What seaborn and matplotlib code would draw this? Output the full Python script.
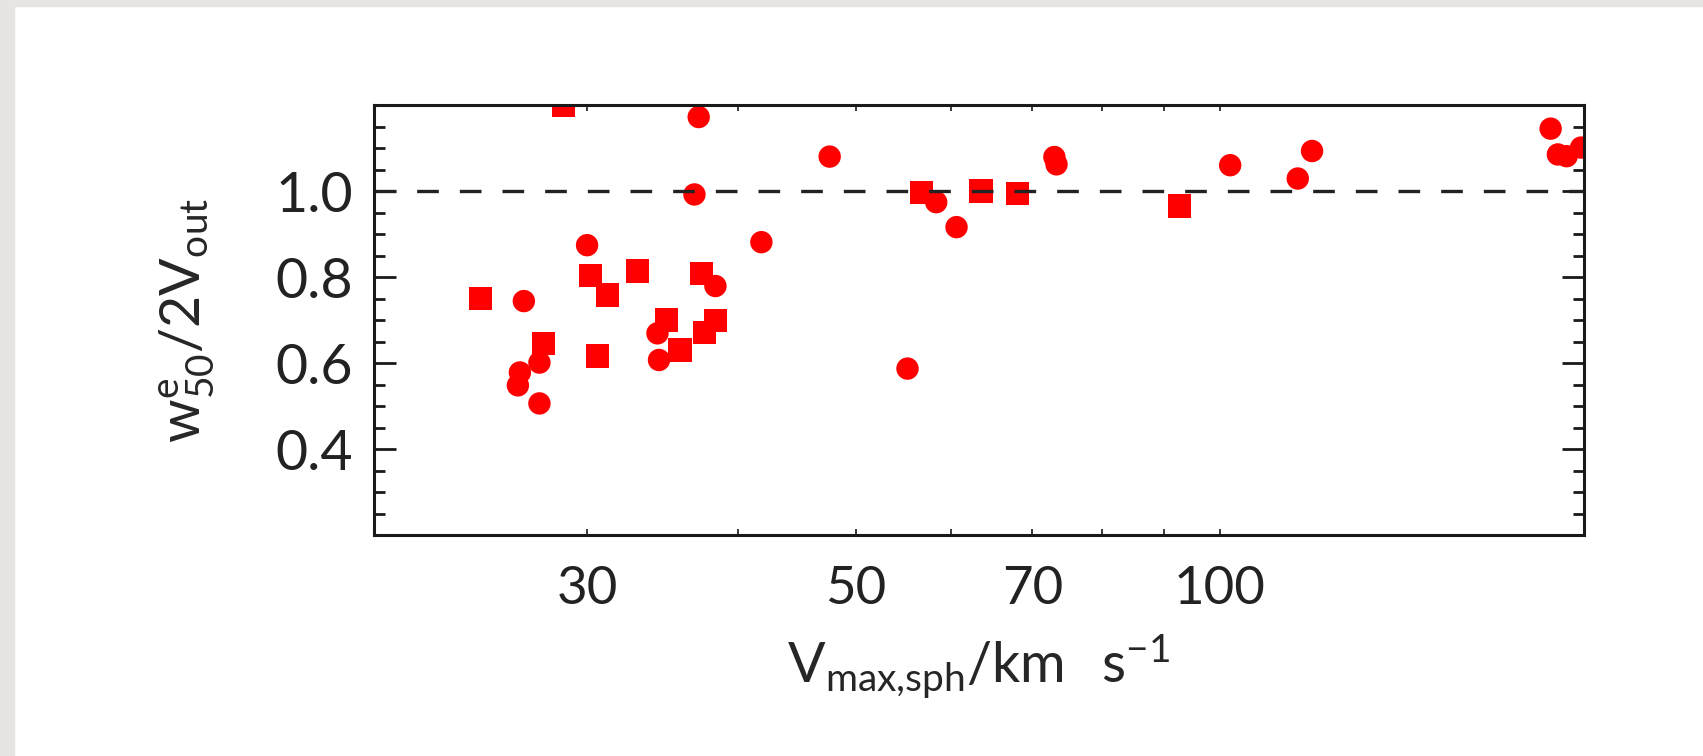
import numpy as np
import pandas as pd
import seaborn as sns
import matplotlib.pyplot as plt
from matplotlib.patches import Rectangle

# values
circ_v = [26.6, 26.4, 26.3, 27.4, 27.4, 30.0, 34.3, 34.4, 37.1, 36.8, 38.3, 41.8, 47.6,
          58.3, 60.6, 73.0, 73.3, 55.2, 102.0, 116.0, 119.2, 187.7, 190.3, 193.5, 198.9]
circ_w = [0.744, 0.578, 0.548, 0.601, 0.506, 0.874, 0.669, 0.607, 1.172, 0.992, 0.779, 0.881, 1.080,
          0.974, 0.916, 1.079, 1.062, 0.587, 1.060, 1.029, 1.093, 1.145, 1.085, 1.081, 1.101]
sq_v = [24.5, 27.6, 28.7, 30.2, 31.2, 30.6, 33.0, 34.9, 35.8, 37.3, 38.3, 37.5,
        56.7, 63.5, 68.1, 92.6]
sq_w = [0.750, 0.645, 1.200, 0.804, 0.758, 0.616, 0.814, 0.700, 0.630, 0.809, 0.698, 0.671,
        0.996, 1.000, 0.994, 0.965]

xticks = [30, 40, 50, 60, 70, 80, 90, 100]
xticklabels = ['30', '', '50', '', '70', '', '', '100']
yticks = [0.4, 0.6, 0.8, 1.0]

df = pd.DataFrame({
    'v': circ_v + sq_v,
    'w': circ_w + sq_w,
    'kind': ['circle'] * len(circ_v) + ['square'] * len(sq_v),
})

sns.set_style('ticks')
plt.rcParams['font.family'] = ['Lato', 'DejaVu Sans']
plt.rcParams['mathtext.default'] = 'regular'
plt.rcParams['text.color'] = '#222222'

fig = plt.figure(figsize=(17.03, 7.56), dpi=100, facecolor='white')
# grey slide border on the left and top
fig.patches.append(Rectangle((0, 0), 14 / 1703, 1, transform=fig.transFigure,
                             color='#e7e5e2', zorder=-10))
fig.patches.append(Rectangle((0, 1 - 6 / 756), 1, 6 / 756, transform=fig.transFigure,
                             color='#e7e5e2', zorder=-10))

ax = fig.add_axes([374 / 1703, 1 - 535 / 756, 1210 / 1703, 430 / 756])

sns.scatterplot(data=df, x='v', y='w', style='kind', markers={'circle': 'o', 'square': 's'},
                color='#ff0000', linewidth=0, legend=False, ax=ax,
                size='kind', sizes={'circle': 260, 'square': 280})

ax.axhline(1.0, color='#222222', lw=2.4, ls=(0, (6.5, 6.3)), zorder=1)

ax.set_xscale('log')
ax.set_xlim(20, 200)
ax.set_ylim(0.2, 1.2)
ax.set_xticks(xticks)
ax.set_xticklabels(xticklabels)
ax.xaxis.set_minor_locator(plt.NullLocator())
ax.set_yticks(yticks)
ax.set_yticks(np.arange(0.25, 1.2, 0.05), minor=True)

for s in ax.spines.values():
    s.set_linewidth(2.2)
    s.set_color('#1a1a1a')

ax.tick_params(axis='x', which='major', direction='in', top=True, bottom=True,
               length=4, width=1.2, labelsize=38, pad=22, color='#1a1a1a',
               labelcolor='#222222')
ax.tick_params(axis='y', which='major', direction='in', left=True, right=True,
               length=16, width=2, labelsize=40, pad=15, color='#1a1a1a',
               labelcolor='#222222')
ax.tick_params(axis='y', which='minor', direction='in', left=True, right=True,
               length=8, width=2, color='#1a1a1a')

ax.set_xlabel(r'$V_{max{,}sph}/km\ \ s^{-1}$', fontsize=40, labelpad=14)
ax.set_ylabel(r'$w^e_{50}/2V_{out}$', fontsize=40, labelpad=42)

fig.savefig('out.png', dpi=100)
